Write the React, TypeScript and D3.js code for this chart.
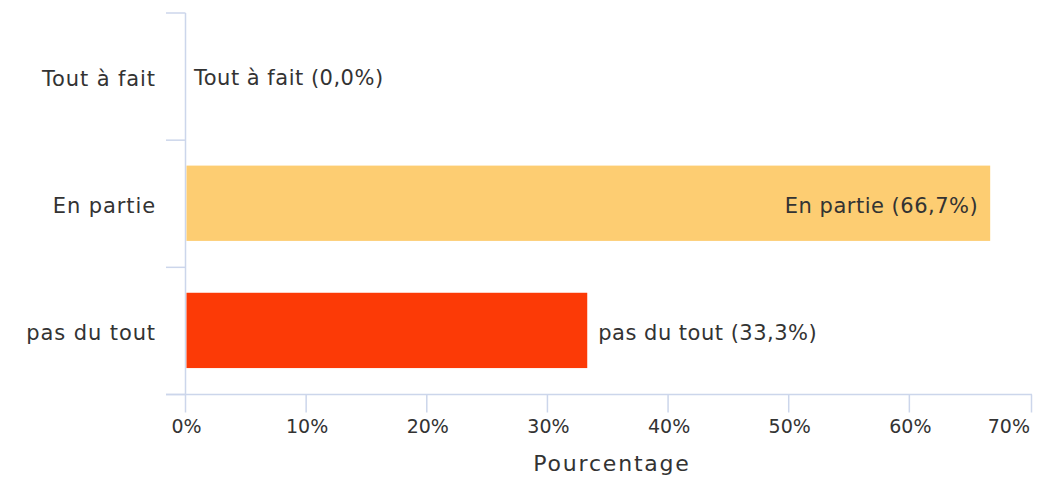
import React from "react";
import * as d3 from "d3";

const categories = ["Tout à fait", "En partie", "pas du tout"];
const values = [0.0, 66.7, 33.3];
const colors = ["#7cb5ec", "#fdcd72", "#fc3a06"];
const xTicks = [0, 10, 20, 30, 40, 50, 60, 70];
const xTitle = "Pourcentage";

const W = 1047;
const H = 477;
const FONT = "'DejaVu Sans', sans-serif";
const TEXT = "#333333";
const AXIS = "#ccd6eb";

export default function App() {
  const left = 185;
  const right = 1032;
  const top = 13;
  const bottom = 394.5;
  const x = d3.scaleLinear().domain([0, 70]).range([left + 0.5, right - 2]);
  const y = d3.scaleBand<string>().domain(categories).range([top, bottom]).paddingInner(0.4).paddingOuter(0.2);
  const fmt = (v: number) => v.toFixed(1).replace(".", ",");

  return (
    <svg width={W} height={H} style={{ position: "absolute", left: 0, top: 0, background: "#fff" }}
      fontFamily={FONT}>
      {/* y axis */}
      <line x1={left + 0.5} x2={left + 0.5} y1={top} y2={bottom} stroke={AXIS} strokeWidth={1.5} />
      {d3.range(categories.length + 1).map((i) => {
        const yy = top + i * ((bottom - top) / categories.length);
        return <line key={"yt" + i} x1={166} x2={left + 0.5} y1={yy} y2={yy} stroke={AXIS} strokeWidth={1.5} />;
      })}
      {/* x axis */}
      <line x1={166} x2={right} y1={bottom} y2={bottom} stroke={AXIS} strokeWidth={1.5} />
      {xTicks.map((t, i) => {
        const xx = i === xTicks.length - 1 ? right - 0.5 : x(t);
        return <line key={"xt" + t} x1={xx} x2={xx} y1={bottom} y2={bottom + 18} stroke={AXIS} strokeWidth={1.5} />;
      })}
      {xTicks.map((t, i) => (
        <text key={"xl" + t} x={i === xTicks.length - 1 ? right - 2 : x(t) + 1} y={433}
          textAnchor={i === xTicks.length - 1 ? "end" : "middle"} fontSize={19} fill={TEXT}>
          {t + "%"}
        </text>
      ))}
      <text x={612} y={471} textAnchor="middle" fontSize={22} letterSpacing={1.8} fill={TEXT}>{xTitle}</text>
      {/* category labels */}
      {categories.map((c) => (
        <text key={"cl" + c} x={156} y={(y(c) as number) + y.bandwidth() / 2 + 2} dy="0.35em"
          textAnchor="end" fontSize={21} letterSpacing={0.9} fill={TEXT}>{c}</text>
      ))}
      {/* bars */}
      {categories.map((c, i) => (
        <rect key={"b" + c} x={x(0) + 1} y={y(c) as number} width={Math.max(0, x(values[i]) - x(0) - 1)}
          height={y.bandwidth() - 1} fill={colors[i]} />
      ))}
      {/* data labels */}
      {categories.map((c, i) => {
        const inside = values[i] > 50;
        const xx = inside ? x(values[i]) - 12 : x(values[i]) + (values[i] === 0 ? 8.5 : 11);
        return (
          <text key={"dl" + c} x={xx} y={(y(c) as number) + y.bandwidth() / 2 + 1.5} dy="0.35em"
            textAnchor={inside ? "end" : "start"} fontSize={21} letterSpacing={0.5} fill={TEXT}>
            {`${c} (${fmt(values[i])}%)`}
          </text>
        );
      })}
    </svg>
  );
}
